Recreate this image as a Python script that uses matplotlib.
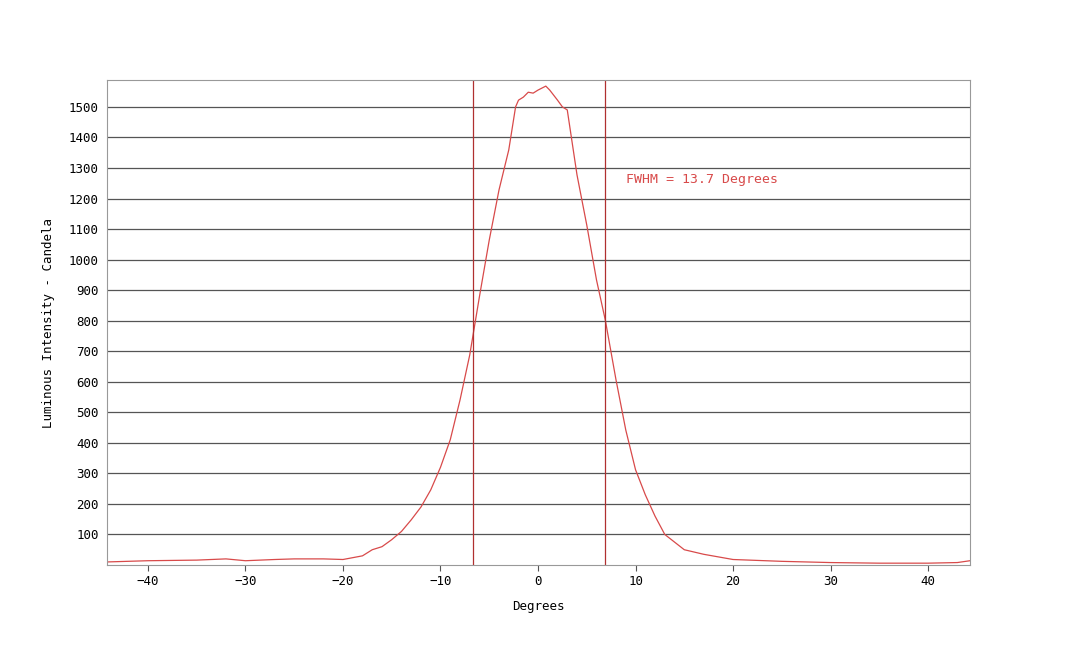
import matplotlib
matplotlib.use("Agg")
import matplotlib.pyplot as plt

# intensity profile (degrees, candela)
angle = [-44.2, -40, -35, -32, -30, -27, -25, -22, -20, -18, -17, -16, -15, -14, -13, -12, -11, -10,
         -9, -8, -7, -6, -5, -4, -3, -2.3, -2, -1.5, -1, -0.5, 0, 0.8, 1.2, 2, 2.5, 3, 4, 5, 6, 6.9, 8,
         9, 10, 11, 12, 13, 14, 15, 17, 20, 25, 30, 35, 40, 43, 44.3]
intensity = [10, 14, 16, 20, 14, 18, 20, 20, 18, 30, 50, 60, 83, 110, 148, 190, 246, 320,
             410, 540, 688, 880, 1064, 1228, 1359, 1500, 1522, 1532, 1548, 1545, 1555, 1568, 1555,
             1522, 1500, 1490, 1277, 1113, 933, 802, 606, 442, 312, 230, 160, 100, 75, 50, 35,
             18, 12, 8, 6, 6, 8, 14]
fwhm_lines = [-6.7, 6.9]
yticks = list(range(100, 1600, 100))
xticks = list(range(-40, 41, 10))

RED = "#d84a4a"
GREY = "#555555"
MONO = "DejaVu Sans Mono"

fig = plt.figure(figsize=(10.8, 6.46), dpi=100)
ax = fig.add_axes([107 / 1080, 81 / 646, 863 / 1080, 485 / 646])

ax.plot(angle, intensity, color=RED, lw=0.9)
for x in fwhm_lines:
    ax.axvline(x, color="#b03030", lw=0.9)

ax.set_xlim(-44.2, 44.3)
ax.set_ylim(0, 1588)
ax.set_yticks(yticks)
ax.set_xticks(xticks)
ax.yaxis.grid(True, color=GREY, lw=0.9)
ax.set_axisbelow(True)
for s in ax.spines.values():
    s.set_color("#999999")
ax.tick_params(axis="y", length=0, labelsize=9, pad=6)
ax.tick_params(axis="x", length=4, color="#555555", labelsize=9)
for lab in ax.get_xticklabels() + ax.get_yticklabels():
    lab.set_family(MONO)

ax.set_xlabel("Degrees", family=MONO, fontsize=9, labelpad=8)
ax.set_ylabel("Luminous Intensity - Candela", family=MONO, fontsize=9, labelpad=10)
ax.text(9.0, 1250, "FWHM = 13.7 Degrees", color=RED, family=MONO, fontsize=9.5)

fig.savefig("out.png", dpi=100, facecolor="white")
